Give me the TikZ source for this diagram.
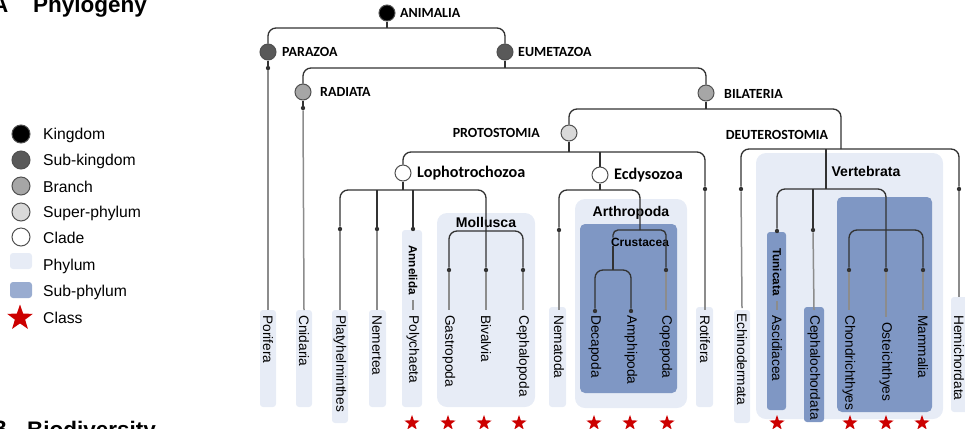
\documentclass[tikz,border=0pt]{standalone}
\usepackage{fontspec}
\setmainfont{Liberation Sans}
\newfontfamily\calib{Carlito}
\usetikzlibrary{shapes.geometric}
\definecolor{treeline}{RGB}{50,50,50}
\definecolor{stemgray}{RGB}{140,140,140}
\definecolor{rimgray}{RGB}{80,80,80}
\definecolor{phylumblue}{RGB}{231,236,246}
\definecolor{subblue}{RGB}{127,151,196}
\definecolor{classred}{RGB}{204,0,0}
\newcommand\leaffont{\fontsize{11.7}{13}\selectfont}

\begin{document}
\begin{tikzpicture}[x=0.3mm,y=-0.3mm,
  tree/.style={draw=treeline,line width=0.4mm,rounded corners=2.4mm},
  stem/.style={draw=stemgray,line width=0.45mm},
  knot/.style={circle,fill=treeline,inner sep=0,minimum size=1.3mm},
  taxon/.style={circle,draw=rimgray,line width=0.3mm,inner sep=0,minimum size=4.8mm},
  rank/.style={anchor=west,inner sep=0,font=\calib\bfseries\fontsize{11.9}{13}\selectfont},
  cladename/.style={rank,font=\calib\bfseries\fontsize{13.8}{15}\selectfont},
  group/.style={inner sep=0,font=\bfseries\fontsize{12}{14}\selectfont},
  leaf/.style={rotate=-90,anchor=west,inner xsep=1.5mm,inner ysep=0,font=\leaffont},
  phylum/.style={fill=phylumblue,rounded corners=0.9mm},
  subphylum/.style={fill=subblue,rounded corners=0.9mm},
  classstar/.style={star,star points=5,star point ratio=2.5,fill=classred,inner sep=0,minimum size=4.8mm},
  keytext/.style={anchor=west,inner sep=0,font=\fontsize{13.4}{15}\selectfont}]
\useasboundingbox (0,0) rectangle (965,428);

\node[anchor=base west,inner sep=0,font=\bfseries\fontsize{19.2}{22}\selectfont] (panela) at (-8,12) {A};
\node[anchor=base west,inner sep=0,font=\bfseries\fontsize{19.2}{22}\selectfont] (phylogeny) at (33,12) {Phylogeny};
\node[anchor=base west,inner sep=0,font=\bfseries\fontsize{19.2}{22}\selectfont] (panelb) at (-9,436) {B};
\node[anchor=base west,inner sep=0,font=\bfseries\fontsize{19.2}{22}\selectfont] (biodiversity) at (27,437) {Biodiversity};

% legend
\node[taxon,fill=black,minimum size=5.4mm] (keykingdom) at (21,134) {};
\node[taxon,fill=black!65,minimum size=5.4mm] (keysubkingdom) at (21,160) {};
\node[taxon,fill=black!35,minimum size=5.4mm] (keybranch) at (21,186) {};
\node[taxon,fill=black!15,minimum size=5.4mm] (keysuperphylum) at (21,212) {};
\node[taxon,fill=white,minimum size=5.4mm] (keyclade) at (21,237) {};
\fill[phylum] (10,253) rectangle (32,269);
\fill[subphylum,fill=subblue!80] (10,282) rectangle (32,298);
\node[classstar,minimum size=8.1mm] (keyclass) at (20,318) {};
\node[keytext] (tkingdom) at (43,135) {Kingdom};
\node[keytext] (tsubkingdom) at (43,161) {Sub-kingdom};
\node[keytext] (tbranch) at (43,187) {Branch};
\node[keytext] (tsuperphylum) at (43,213) {Super-phylum};
\node[keytext] (tclade) at (43,238) {Clade};
\node[keytext] (tphylum) at (43,266) {Phylum};
\node[keytext] (tsubphylum) at (43,292) {Sub-phylum};
\node[keytext] (tclass) at (43,318) {Class};

% boxes
\fill[phylum] (260,310) rectangle (276,407);
\fill[phylum] (296,310) rectangle (312,407);
\fill[phylum] (332,310) rectangle (348,423);
\fill[phylum] (369,310) rectangle (386,407);
\fill[phylum] (402,230) rectangle (422,407);
\fill[phylum,rounded corners=3mm] (437,213) rectangle (535,407);
\fill[phylum] (549,307) rectangle (566,407);
\fill[phylum,rounded corners=3mm] (575,199) rectangle (687,408);
\fill[subphylum,rounded corners=1.5mm] (580,224) rectangle (677,393);
\fill[phylum] (696,307) rectangle (713,407);
\fill[phylum] (734,310) rectangle (750,423);
\fill[phylum,rounded corners=3mm] (756,153) rectangle (943,419);
\fill[subphylum] (767,232) rectangle (786,410);
\fill[subphylum] (804,307) rectangle (824,422);
\fill[subphylum,rounded corners=1.5mm] (837,197) rectangle (932,412);
\fill[phylum] (951,297) rectangle (968,412);

\node[group] (mollusca) at (486,222) {Mollusca};
\node[group] (arthropoda) at (631,213) {Arthropoda};
\node[group,font=\bfseries\fontsize{10.2}{12}\selectfont] (crustacea) at (640,242) {Crustacea};
\node[group] (vertebrata) at (866,171) {Vertebrata};

% ranks
\node[taxon,fill=black] (animalia) at (387,13) {};
\node[taxon,fill=black!65] (parazoa) at (268,52) {};
\node[taxon,fill=black!65] (eumetazoa) at (505,52) {};
\node[taxon,fill=black!35] (radiata) at (303,92) {};
\node[taxon,fill=black!35] (bilateria) at (706,93) {};
\node[taxon,fill=black!15] (protostomia) at (569,133) {};
\node[taxon,fill=white] (lopho) at (403,173) {};
\node[taxon,fill=white] (ecdy) at (600,175) {};
\node[rank] (tanimalia) at (400,13) {ANIMALIA};
\node[rank] (tparazoa) at (282,52) {PARAZOA};
\node[rank] (teumetazoa) at (518,52) {EUMETAZOA};
\node[rank] (tradiata) at (320,92) {RADIATA};
\node[rank] (tbilateria) at (724,94) {BILATERIA};
\node[rank,anchor=east] (tprotostomia) at (540,133) {PROTOSTOMIA};
\node[rank,anchor=center] (tdeutero) at (777,135) {DEUTEROSTOMIA};
\node[cladename] (tlopho) at (417,173) {Lophotrochozoa};
\node[cladename] (tecdy) at (614,175) {Ecdysozoa};

\coordinate (a1) at (387,28);
\coordinate (e1) at (505,68);
\coordinate (b1) at (706,109);
\coordinate (deut1) at (841,149);
\coordinate (vtop) at (826,149);
\coordinate (v1) at (826,189);
\coordinate (p1) at (569,152);
\coordinate (l1) at (403,190);
\coordinate (m1) at (486,231);
\coordinate (e2) at (600,190);
\coordinate (c1) at (640,230);
\coordinate (c2) at (613,270);
\coordinate (g1) at (886,230);

\node[knot] (poriknot) at (268,68) {};
\node[knot] (cnidknot) at (303,108) {};
\node[knot] (platyknot) at (340,229) {};
\node[knot] (nemeknot) at (377,229) {};
\node[knot] (anneknot) at (413,229) {};
\node[knot] (gastknot) at (449,270) {};
\node[knot] (bivalknot) at (486,270) {};
\node[knot] (cephknot) at (523,270) {};
\node[knot] (nemaknot) at (559,230) {};
\node[knot] (decaknot) at (595,311) {};
\node[knot] (amphiknot) at (631,311) {};
\node[knot] (copeknot) at (666,270) {};
\node[knot] (rotiknot) at (705,189) {};
\node[knot] (echiknot) at (741,189) {};
\node[knot] (tuniknot) at (777,231) {};
\node[knot] (cephaknot) at (813,230) {};
\node[knot] (chondknot) at (849,270) {};
\node[knot] (osteknot) at (886,270) {};
\node[knot] (mammknot) at (923,270) {};
\node[knot] (hemiknot) at (959,189) {};

% leaves
\node[leaf] (porifera) at (268,310) {Porifera};
\node[leaf] (cnidaria) at (304,310) {Cnidaria};
\node[leaf] (platy) at (340,310) {Platyhelminthes};
\node[leaf] (nemertea) at (377,310) {Nemertea};
\node[leaf,font=\bfseries\fontsize{10}{12}\selectfont] (annelida) at (413,240) {Annelida};
\node[leaf] (polychaeta) at (413,310) {Polychaeta};
\node[leaf] (gastropoda) at (449,310) {Gastropoda};
\node[leaf] (bivalvia) at (486,310) {Bivalvia};
\node[leaf] (cephalopoda) at (523,310) {Cephalopoda};
\node[leaf] (nematoda) at (559,310) {Nematoda};
\node[leaf] (decapoda) at (595,310) {Decapoda};
\node[leaf] (amphipoda) at (631,310) {Amphipoda};
\node[leaf] (copepoda) at (666,310) {Copepoda};
\node[leaf] (rotifera) at (705,310) {Rotifera};
\node[leaf] (echino) at (742,308) {Echinodermata};
\node[leaf,font=\bfseries\fontsize{10}{12}\selectfont] (tunicata) at (777,243) {Tunicata};
\node[leaf] (ascidiacea) at (777,310) {Ascidiacea};
\node[leaf] (cephalo) at (814,310) {Cephalochordata};
\node[leaf] (chondri) at (849,310) {Chondrichthyes};
\node[leaf] (osteich) at (886,317) {Osteichthyes};
\node[leaf] (mammalia) at (923,310) {Mammalia};
\node[leaf,inner xsep=5.4mm] (hemichordata) at (959,297) {Hemichordata};

% tree
\draw[tree] (animalia) -- (a1);
\draw[tree] (parazoa) |- (a1) -| (eumetazoa);
\draw[tree] (parazoa) -- (poriknot);
\draw[tree] (eumetazoa) -- (e1);
\draw[tree] (radiata) |- (e1) -| (bilateria);
\draw[tree] (radiata) -- (cnidknot);
\draw[tree] (bilateria) -- (b1);
\draw[tree] (protostomia) |- (b1) -| (deut1);
\draw[tree] (echiknot) |- (deut1) -| (hemiknot);
\draw[tree] (vtop) -- (v1);
\draw[tree] (protostomia) -- (p1);
\draw[tree] (lopho) |- (p1) -| (rotiknot);
\draw[tree] (ecdy) -- (ecdy |- p1);
\draw[tree] (lopho) -- (l1);
\draw[tree] (platyknot) |- (l1) -| (bivalknot);
\draw[tree] (nemeknot |- l1) -- (nemeknot);
\draw[tree] (anneknot |- l1) -- (anneknot);
\draw[tree] (gastknot) |- (m1) -| (cephknot);
\draw[tree] (ecdy) -- (e2);
\draw[tree] (nemaknot) |- (e2) -| (c1);
\draw[tree,rounded corners=1.5mm] (crustacea.north -| c2) |- (c1) -| (copeknot);
\draw[tree] (crustacea.south -| c2) -- (c2);
\draw[tree] (decaknot) |- (c2) -| (amphiknot);
\draw[tree] (tuniknot) |- (v1) -| (osteknot);
\draw[tree] (cephaknot |- v1) -- (cephaknot);
\draw[tree] (chondknot) |- (g1) -| (mammknot);

\draw[stem] (poriknot) -- (porifera.west);
\draw[stem] (cnidknot) -- (cnidaria.west);
\draw[stem] (platyknot) -- (platy.west);
\draw[stem] (nemeknot) -- (nemertea.west);
\draw[stem] (annelida.east) -- (polychaeta.west);
\draw[stem] (gastknot) -- (gastropoda.west);
\draw[stem] (bivalknot) -- (bivalvia.west);
\draw[stem] (cephknot) -- (cephalopoda.west);
\draw[stem] (nemaknot) -- (nematoda.west);
\draw[stem] (copeknot) -- (copepoda.west);
\draw[stem] (rotiknot) -- (rotifera.west);
\draw[stem] (echiknot) -- (echino.west);
\draw[stem] (tunicata.east) -- (ascidiacea.west);
\draw[stem] (cephaknot) -- (cephalo.west);
\draw[stem] (chondknot) -- (chondri.west);
\draw[stem] (osteknot) -- (osteich.west);
\draw[stem] (mammknot) -- (mammalia.west);
\draw[stem] (hemiknot) -- (hemichordata.west);

% classes
\node[classstar] (spolychaeta) at (412,423) {};
\node[classstar] (sgastropoda) at (448,423) {};
\node[classstar] (sbivalvia) at (484,423) {};
\node[classstar] (scephalopoda) at (519,423) {};
\node[classstar] (sdecapoda) at (594,423) {};
\node[classstar] (samphipoda) at (630,423) {};
\node[classstar] (scopepoda) at (667,423) {};
\node[classstar] (sascidiacea) at (777,423) {};
\node[classstar] (schondri) at (850,423) {};
\node[classstar] (sosteich) at (886,423) {};
\node[classstar] (smammalia) at (922,423) {};
\end{tikzpicture}
\end{document}
